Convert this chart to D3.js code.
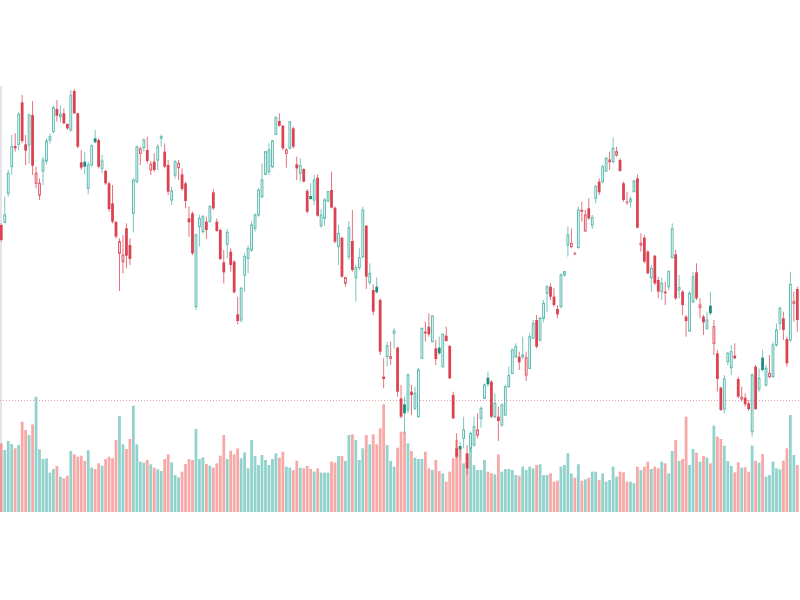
<!DOCTYPE html>
<html>
<head>
<meta charset="utf-8">
<title>Candles</title>
<script src="https://d3js.org/d3.v7.min.js"></script>
<style>
  body { margin: 0; background: #fff; }
  svg { display: block; }
</style>
</head>
<body>
<div id="chart"></div>
<script>
// OHLC + volume, one value per session (230 sessions)
const opens = [
  82.5, 83.3, 92.0, 100.0, 106.2, 106.7, 119.3, 106.7, 106.5, 115.5,
  95.0, 91.5, 98.7, 101.7, 108.0, 110.5, 117.3, 115.0, 116.0, 112.8,
  111.0, 122.7, 116.0, 101.3, 101.5, 93.5, 100.5, 108.5, 108.0, 99.5,
  98.7, 95.0, 89.0, 83.5, 74.0, 71.5, 81.5, 76.5, 86.0, 95.5,
  104.0, 105.7, 105.0, 99.0, 101.5, 102.0, 108.5, 104.5, 100.5, 90.0,
  97.5, 99.7, 97.7, 95.0, 84.5, 86.0, 58.0, 82.0, 80.5, 83.5,
  83.5, 92.3, 83.5, 81.0, 71.3, 76.7, 74.5, 71.5, 55.7, 54.0,
  67.5, 72.5, 75.0, 81.5, 85.5, 91.0, 97.7, 98.5, 100.0, 109.7,
  113.7, 112.3, 104.0, 105.5, 111.5, 100.7, 98.0, 99.3, 92.7, 91.2,
  90.0, 96.7, 82.3, 84.5, 89.7, 93.0, 87.7, 76.0, 78.7, 65.0,
  73.0, 77.7, 66.7, 69.7, 73.0, 82.3, 65.3, 63.0, 64.0, 60.0,
  37.0, 43.0, 42.5, 50.0, 45.7, 30.5, 28.7, 27.0, 32.5, 27.5,
  25.0, 42.5, 50.5, 52.0, 47.5, 45.5, 45.7, 40.0, 49.3, 46.2,
  31.5, 15.5, 16.2, 18.5, 14.0, 15.5, 16.5, 19.5, 24.5, 30.5,
  36.7, 35.5, 25.0, 25.0, 22.5, 25.5, 34.0, 38.0, 43.0, 43.0,
  43.0, 37.5, 39.5, 48.5, 54.0, 48.0, 54.5, 62.0, 64.0, 61.0,
  57.3, 58.0, 67.5, 76.5, 76.0, 74.0, 75.7, 87.0, 80.7, 87.5,
  82.5, 90.5, 95.5, 95.5, 98.7, 101.5, 101.5, 103.5, 102.0, 95.0,
  89.5, 89.5, 92.5, 96.5, 76.5, 78.7, 74.5, 66.7, 73.3, 66.0,
  62.5, 62.5, 64.0, 72.7, 73.7, 63.0, 62.5, 55.0, 50.7, 59.5,
  68.3, 57.7, 55.0, 51.5, 58.3, 47.0, 44.0, 33.7, 27.3, 41.5,
  39.7, 43.3, 36.3, 30.3, 30.7, 29.0, 20.5, 40.0, 33.3, 42.7,
  34.5, 37.0, 37.0, 46.5, 53.0, 54.5, 48.3, 48.0, 59.0, 63.3
];
const highs = [
  83.0, 91.0, 99.0, 109.5, 110.0, 116.5, 121.5, 109.5, 116.0, 119.7,
  100.0, 96.5, 103.0, 108.5, 110.0, 118.3, 120.0, 118.3, 117.5, 113.0,
  123.0, 123.3, 116.2, 105.0, 104.5, 101.5, 106.7, 111.0, 108.5, 103.5,
  99.0, 95.5, 94.5, 83.5, 78.5, 79.5, 83.0, 78.5, 96.5, 106.3,
  106.0, 108.5, 109.0, 101.7, 104.0, 106.7, 109.7, 107.0, 102.0, 94.0,
  102.0, 102.0, 99.5, 95.5, 88.0, 86.5, 80.0, 85.5, 85.5, 85.0,
  88.5, 93.3, 84.5, 81.5, 75.0, 81.3, 75.5, 72.0, 61.0, 64.0,
  74.0, 76.3, 83.5, 86.0, 93.5, 101.0, 104.5, 107.0, 108.0, 115.0,
  116.0, 112.5, 105.5, 113.7, 112.0, 103.0, 102.5, 99.5, 93.3, 95.0,
  97.5, 97.7, 87.3, 90.5, 92.7, 98.5, 88.0, 82.5, 79.0, 67.0,
  83.7, 87.0, 70.5, 75.5, 88.0, 82.5, 71.0, 64.7, 66.7, 60.5,
  42.5, 47.5, 47.5, 51.5, 46.0, 34.5, 31.0, 38.0, 34.5, 34.0,
  39.7, 51.7, 53.5, 56.0, 55.5, 48.0, 49.0, 50.0, 52.0, 46.5,
  32.5, 20.0, 17.5, 25.0, 16.5, 20.5, 25.0, 26.0, 28.0, 35.0,
  38.5, 36.0, 32.0, 28.0, 29.0, 34.5, 40.0, 45.5, 47.0, 44.5,
  49.0, 44.5, 50.0, 54.0, 55.5, 55.0, 60.0, 64.5, 65.0, 63.5,
  58.5, 68.0, 68.7, 82.0, 81.5, 74.5, 88.0, 89.5, 87.0, 90.5,
  85.5, 94.5, 96.5, 100.5, 103.0, 104.5, 108.7, 106.0, 102.5, 95.5,
  92.5, 91.0, 96.0, 97.7, 80.0, 79.5, 75.0, 70.5, 73.5, 67.0,
  66.7, 65.5, 69.0, 83.0, 75.0, 67.5, 63.0, 55.5, 62.5, 68.5,
  71.0, 60.5, 55.5, 56.5, 62.5, 54.0, 45.0, 34.0, 37.5, 44.5,
  46.5, 47.0, 37.0, 34.0, 32.0, 30.0, 38.0, 40.5, 39.5, 45.0,
  40.5, 43.5, 47.5, 53.0, 58.0, 56.5, 49.0, 68.5, 62.5, 64.0
];
const lows = [
  77.5, 83.0, 91.0, 97.5, 104.5, 105.0, 107.0, 100.5, 101.0, 97.5,
  93.5, 90.0, 94.5, 100.7, 107.0, 110.0, 113.5, 113.3, 112.8, 111.0,
  110.5, 115.8, 105.5, 99.0, 97.7, 91.7, 100.0, 107.0, 99.5, 98.0,
  94.5, 86.5, 83.0, 78.5, 62.7, 68.0, 69.5, 70.5, 80.3, 95.0,
  100.5, 104.5, 101.0, 97.5, 98.5, 99.0, 106.0, 99.5, 91.5, 88.5,
  96.5, 96.0, 92.7, 87.5, 79.0, 73.5, 57.0, 76.0, 80.0, 78.3,
  83.3, 87.0, 80.5, 72.0, 65.0, 72.5, 68.5, 62.0, 52.7, 53.3,
  62.5, 68.0, 74.5, 80.5, 85.0, 90.5, 97.5, 97.5, 99.5, 109.5,
  112.0, 105.0, 99.7, 105.3, 105.5, 96.0, 95.5, 95.3, 86.0, 90.0,
  88.5, 85.0, 81.7, 82.3, 89.3, 87.5, 77.0, 70.5, 66.7, 64.0,
  72.0, 68.5, 59.5, 69.0, 72.5, 63.3, 64.5, 55.5, 62.0, 43.5,
  33.5, 40.0, 40.5, 45.5, 31.0, 24.5, 20.0, 26.0, 25.5, 27.0,
  24.7, 42.3, 47.5, 49.0, 47.3, 40.5, 43.5, 39.7, 47.5, 36.3,
  24.3, 12.5, 12.5, 15.5, 7.5, 14.5, 16.0, 18.5, 21.7, 30.3,
  34.0, 24.5, 24.5, 17.7, 22.0, 25.3, 33.7, 37.7, 42.5, 39.0,
  42.3, 35.7, 39.3, 48.3, 45.5, 47.5, 53.3, 56.5, 60.0, 58.0,
  54.5, 57.5, 67.0, 73.0, 75.5, 73.5, 75.5, 83.5, 80.5, 84.0,
  81.3, 89.0, 91.5, 95.0, 98.3, 99.0, 101.0, 103.0, 98.5, 89.5,
  88.5, 87.7, 92.3, 81.5, 74.5, 71.0, 67.7, 62.5, 64.5, 60.5,
  60.0, 58.5, 63.0, 72.5, 60.0, 60.5, 55.5, 49.0, 50.5, 59.0,
  60.0, 54.5, 49.5, 51.0, 55.5, 43.5, 32.5, 26.7, 26.0, 40.5,
  37.5, 42.3, 30.5, 29.5, 28.0, 26.7, 19.0, 27.0, 32.5, 38.5,
  34.0, 36.5, 36.7, 46.0, 51.0, 48.0, 40.0, 47.5, 53.5, 50.5
];
const closes = [
  78.0, 85.5, 98.0, 106.0, 105.5, 115.7, 107.7, 104.8, 115.5, 100.3,
  98.0, 95.0, 102.0, 107.7, 109.0, 117.7, 115.3, 115.7, 113.0, 111.5,
  121.3, 116.0, 106.0, 99.7, 100.0, 100.5, 106.3, 107.3, 100.0, 101.7,
  95.0, 87.3, 83.5, 79.0, 77.5, 73.5, 73.3, 72.3, 96.0, 106.0,
  105.3, 108.0, 101.7, 100.7, 99.0, 106.0, 109.0, 100.0, 92.5, 92.7,
  101.5, 101.0, 93.3, 89.7, 83.3, 74.0, 79.5, 84.5, 85.0, 81.0,
  88.0, 87.5, 80.7, 72.3, 68.3, 80.3, 70.5, 62.3, 53.7, 63.5,
  73.0, 75.5, 82.5, 85.5, 93.0, 96.0, 104.5, 105.0, 107.7, 114.8,
  112.3, 105.5, 105.0, 113.5, 106.0, 99.5, 100.3, 95.5, 86.5, 90.3,
  96.0, 85.3, 85.5, 90.0, 92.5, 87.7, 77.5, 80.0, 67.0, 66.7,
  81.7, 69.0, 69.7, 72.7, 87.0, 67.0, 68.0, 56.5, 62.3, 44.5,
  36.3, 46.3, 43.0, 50.7, 32.5, 25.0, 26.0, 37.5, 31.5, 32.0,
  39.0, 51.5, 50.0, 49.7, 55.2, 42.3, 44.0, 49.7, 47.7, 36.5,
  24.5, 13.0, 15.2, 21.0, 9.5, 20.0, 22.0, 21.0, 27.5, 34.5,
  34.7, 25.0, 29.0, 23.7, 28.5, 34.0, 37.3, 45.0, 46.0, 41.3,
  43.5, 42.7, 49.0, 53.0, 46.0, 54.5, 59.0, 64.0, 61.0, 58.5,
  55.7, 67.5, 68.5, 79.5, 77.0, 73.8, 87.0, 86.5, 85.5, 84.5,
  84.7, 94.0, 92.3, 100.0, 102.5, 102.0, 105.5, 104.5, 98.7, 90.0,
  89.3, 90.3, 95.7, 81.7, 77.0, 71.5, 68.0, 69.5, 65.0, 62.5,
  65.0, 62.0, 68.5, 81.3, 60.5, 63.7, 58.5, 53.7, 62.0, 67.0,
  60.5, 58.5, 53.3, 54.0, 56.0, 52.0, 36.3, 27.0, 36.3, 44.0,
  44.5, 42.5, 31.0, 30.8, 28.7, 27.3, 37.5, 27.3, 36.5, 39.0,
  39.5, 38.0, 46.5, 51.0, 57.5, 51.0, 41.0, 64.7, 59.5, 54.0
];
const volumes = [
  206, 186, 213, 204, 191, 201, 271, 246, 231, 263,
  346, 188, 159, 161, 118, 129, 138, 106, 101, 109,
  183, 173, 166, 169, 153, 185, 133, 129, 146, 139,
  159, 166, 161, 216, 288, 203, 189, 219, 319, 203,
  151, 148, 156, 143, 133, 128, 123, 159, 173, 149,
  111, 104, 121, 144, 159, 156, 249, 159, 164, 144,
  139, 133, 146, 169, 231, 159, 184, 173, 191, 161,
  179, 131, 216, 168, 141, 171, 156, 141, 159, 176,
  163, 181, 136, 133, 126, 154, 133, 131, 138, 129,
  121, 131, 118, 118, 118, 151, 148, 168, 168, 153,
  231, 233, 216, 156, 191, 231, 203, 233, 203, 251,
  323, 201, 153, 136, 193, 241, 241, 206, 183, 163,
  159, 159, 181, 131, 126, 156, 123, 116, 91, 121,
  161, 216, 191, 146, 171, 236, 141, 126, 126, 156,
  121, 116, 113, 173, 121, 129, 129, 126, 111, 109,
  136, 126, 136, 131, 141, 143, 111, 111, 116, 91,
  94, 136, 141, 176, 116, 103, 143, 94, 98, 103,
  121, 121, 96, 116, 91, 96, 136, 106, 121, 119,
  91, 91, 86, 136, 126, 136, 151, 129, 136, 131,
  151, 146, 116, 183, 216, 153, 159, 286, 141, 189,
  178, 151, 168, 163, 146, 259, 226, 219, 199, 153,
  138, 119, 149, 133, 134, 121, 199, 154, 148, 174,
  106, 111, 151, 131, 128, 154, 191, 291, 171, 141
];
const refLevel = 30;   // dotted horizontal price line

const width = 800, height = 600;
const upColor = '#4db3a8', downColor = '#dc4352';
const filledUp = '#1f8c80';
const volUp = 'rgba(38,166,154,0.5)', volDown = 'rgba(239,83,80,0.5)';

const n = d3.min([opens.length, highs.length, lows.length, closes.length, volumes.length]);
const data = d3.range(n).map(i => ({
  i: i,
  o: opens[i], h: highs[i], l: lows[i], c: closes[i], v: volumes[i],
  prev: i > 0 ? closes[i - 1] : opens[i]
}));

let svg = d3.select('#chart').append('svg')
  .attr('width', width)
  .attr('height', height);

let x = d3.scaleBand()
  .domain(d3.range(n))
  .range([-0.44, 799.06])
  .paddingInner(0.2)
  .paddingOuter(0.1);
let y = d3.scaleLinear().domain([0, 150]).range([500, 0]);
let yv = d3.scaleLinear().domain([0, 360]).range([512, 392]);
const bw = x.bandwidth();

// left price-scale edge
svg.append('rect')
  .attr('x', 0).attr('y', 86)
  .attr('width', 2).attr('height', 426)
  .attr('fill', '#e4e4e9');

// volume
svg.append('g').selectAll('rect')
  .data(data)
  .enter().append('rect')
  .attr('x', d => x(d.i))
  .attr('y', d => yv(d.v))
  .attr('width', bw)
  .attr('height', d => yv(0) - yv(d.v))
  .attr('fill', d => d.c >= d.o ? volUp : volDown);

// dotted level line
svg.append('line')
  .attr('x1', 0).attr('x2', width)
  .attr('y1', Math.round(y(refLevel)) + 0.5)
  .attr('y2', Math.round(y(refLevel)) + 0.5)
  .attr('stroke', '#e3a3a6')
  .attr('stroke-width', 1)
  .attr('stroke-dasharray', '1,2');

// candles
let candle = svg.append('g').selectAll('.candle')
  .data(data)
  .enter().append('g')
  .attr('class', 'candle');

candle.append('line')
  .attr('x1', d => x(d.i) + bw / 2)
  .attr('x2', d => x(d.i) + bw / 2)
  .attr('y1', d => y(d.h))
  .attr('y2', d => y(d.l))
  .attr('stroke', d => d.c >= d.prev ? upColor : downColor)
  .attr('stroke-opacity', 0.75)
  .attr('stroke-width', 1);

candle.append('rect')
  .attr('x', d => d.c >= d.o ? x(d.i) + 0.5 : x(d.i))
  .attr('y', d => y(Math.max(d.o, d.c)))
  .attr('width', d => d.c >= d.o ? bw - 1 : bw)
  .attr('height', d => Math.max(1, y(Math.min(d.o, d.c)) - y(Math.max(d.o, d.c))))
  .attr('fill', d => d.c >= d.o ? '#fff' : (d.c >= d.prev ? filledUp : downColor))
  .attr('stroke', d => d.c >= d.o ? (d.c >= d.prev ? upColor : downColor) : 'none')
  .attr('stroke-opacity', 0.9)
  .attr('stroke-width', 1);
</script>
</body>
</html>
